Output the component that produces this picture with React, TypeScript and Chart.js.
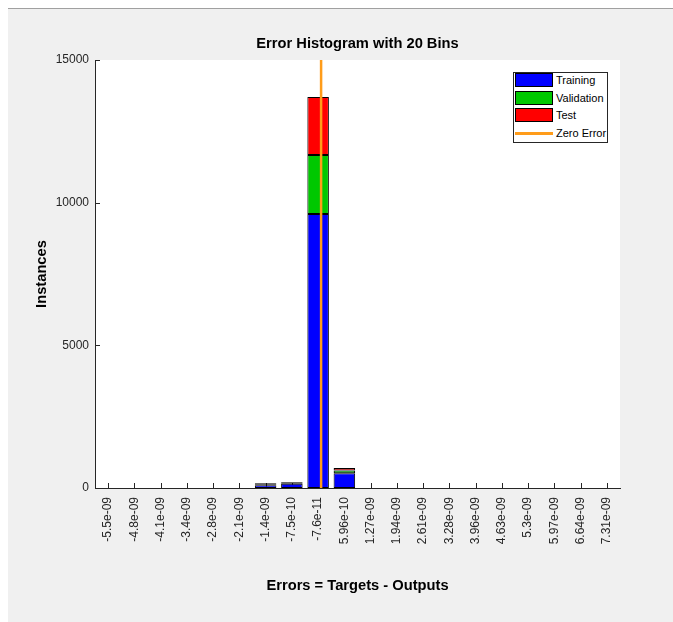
import React, { useEffect, useRef } from 'react';
import { Chart, registerables } from 'chart.js';

Chart.register(...registerables);

// Bin centres of the error histogram (tick labels on the x axis)
const binLabels = [
  '-5.5e-09', '-4.8e-09', '-4.1e-09', '-3.4e-09', '-2.8e-09', '-2.1e-09',
  '-1.4e-09', '-7.5e-10', '-7.6e-11', '5.96e-10', '1.27e-09', '1.94e-09',
  '2.61e-09', '3.28e-09', '3.96e-09', '4.63e-09', '5.3e-09', '5.97e-09',
  '6.64e-09', '7.31e-09',
];

// Instances per bin, split by data subset
const trainingCounts = [0, 0, 0, 0, 0, 0, 100, 150, 9600, 520, 0, 0, 0, 0, 0, 0, 0, 0, 0, 0];
const validationCounts = [0, 0, 0, 0, 0, 0, 35, 30, 2070, 90, 0, 0, 0, 0, 0, 0, 0, 0, 0, 0];
const testCounts = [0, 0, 0, 0, 0, 0, 35, 30, 2030, 90, 0, 0, 0, 0, 0, 0, 0, 0, 0, 0];

// Error value of the zero-error reference line
const zeroErrorValue = 0;

const yMax = 15000;
const yStep = 5000;

const FONT = '"Liberation Sans", Arial, Helvetica, sans-serif';
const AXIS_COLOR = '#262626';

const COLORS = {
  training: '#0000ff',
  validation: '#00c800',
  test: '#ff0000',
  zero: '#ff9c1a',
};

// White plotting area over the grey figure background
const plotBackground = {
  id: 'plotBackground',
  beforeDraw(chart: any) {
    const { ctx, chartArea } = chart;
    ctx.save();
    ctx.fillStyle = '#ffffff';
    ctx.fillRect(chartArea.left, chartArea.top, chartArea.right - chartArea.left, chartArea.bottom - chartArea.top);
    ctx.restore();
  },
};

// Tick marks pointing into the plot area
const inwardTicks = {
  id: 'inwardTicks',
  beforeDatasetsDraw(chart: any) {
    const { ctx, chartArea } = chart;
    const xs = chart.scales.x;
    const ys = chart.scales.y;
    const len = 5;
    ctx.save();
    ctx.strokeStyle = AXIS_COLOR;
    ctx.lineWidth = 1;
    ctx.beginPath();
    xs.ticks.forEach((_t: any, i: number) => {
      const px = Math.round(xs.getPixelForTick(i)) + 0.5;
      ctx.moveTo(px, chartArea.bottom);
      ctx.lineTo(px, chartArea.bottom - len);
    });
    ys.ticks.forEach((_t: any, i: number) => {
      const py = Math.round(ys.getPixelForTick(i)) + 0.5;
      ctx.moveTo(chartArea.left, py);
      ctx.lineTo(chartArea.left + len, py);
    });
    ctx.stroke();
    ctx.restore();
  },
};

// Vertical zero-error line, placed on the error-value scale
const zeroErrorLine = {
  id: 'zeroErrorLine',
  afterDatasetsDraw(chart: any) {
    const { ctx } = chart;
    const xz = chart.scales.xz;
    const ys = chart.scales.y;
    const px = xz.getPixelForValue(zeroErrorValue);
    ctx.save();
    ctx.strokeStyle = COLORS.zero;
    ctx.lineWidth = 2.5;
    ctx.beginPath();
    ctx.moveTo(px, ys.getPixelForValue(0));
    ctx.lineTo(px, ys.getPixelForValue(yMax));
    ctx.stroke();
    ctx.restore();
  },
};

function HistogramChart() {
  const canvasRef = useRef<HTMLCanvasElement | null>(null);

  useEffect(() => {
    if (!canvasRef.current) return;

    // Error-value scale spanning the bin edges
    const c8 = Number(binLabels[8]);
    const c9 = Number(binLabels[9]);
    const binWidth = c9 - c8;
    const errMin = c8 - 8.5 * binWidth;
    const errMax = errMin + binLabels.length * binWidth;

    const barCommon = {
      type: 'bar' as const,
      borderColor: '#000000',
      borderWidth: 1,
      borderSkipped: false,
      barPercentage: 0.82,
      categoryPercentage: 1,
    };

    const chart = new Chart(canvasRef.current, {
      type: 'bar',
      data: {
        labels: binLabels,
        datasets: [
          { ...barCommon, label: 'Training', data: trainingCounts, backgroundColor: COLORS.training },
          { ...barCommon, label: 'Validation', data: validationCounts, backgroundColor: COLORS.validation },
          { ...barCommon, label: 'Test', data: testCounts, backgroundColor: COLORS.test },
        ],
      },
      options: {
        animation: false,
        responsive: false,
        devicePixelRatio: 1,
        layout: { padding: { left: 0, right: 53, top: 0, bottom: 0 } },
        plugins: {
          legend: { display: false },
          tooltip: { enabled: false },
          title: {
            display: true,
            fullSize: false,
            text: 'Error Histogram with 20 Bins',
            color: '#000000',
            font: { family: FONT, size: 14.7, weight: 'bold' },
            padding: { top: 26.5, bottom: 6.86 },
          },
        },
        scales: {
          x: {
            type: 'category',
            stacked: true,
            offset: true,
            grid: { display: false, drawTicks: false },
            border: { display: true, color: AXIS_COLOR, width: 1 },
            ticks: {
              autoSkip: false,
              minRotation: 90,
              maxRotation: 90,
              padding: 9,
              color: AXIS_COLOR,
              font: { family: FONT, size: 12 },
            },
            title: {
              display: true,
              text: 'Errors = Targets - Outputs',
              color: '#000000',
              font: { family: FONT, size: 14.7, weight: 'bold' },
              padding: { top: 0, bottom: 27.7 },
            },
            afterFit(scale: any) {
              scale.height = 134;
            },
          },
          xz: {
            type: 'linear',
            display: false,
            offset: false,
            bounds: 'data',
            min: errMin,
            max: errMax,
          },
          y: {
            type: 'linear',
            stacked: true,
            min: 0,
            max: yMax,
            grid: { display: false, drawTicks: false },
            border: { display: true, color: AXIS_COLOR, width: 1 },
            ticks: {
              stepSize: yStep,
              padding: 6,
              color: AXIS_COLOR,
              font: { family: FONT, size: 12 },
              callback: (v: any) => String(v),
            },
            title: {
              display: true,
              text: 'Instances',
              color: '#000000',
              font: { family: FONT, size: 14.7, weight: 'bold' },
              padding: { top: 25.2, bottom: 0 },
            },
            afterFit(scale: any) {
              scale.width = 87;
            },
          },
        },
      } as any,
      plugins: [plotBackground, inwardTicks, zeroErrorLine],
    });

    return () => chart.destroy();
  }, []);

  return <canvas ref={canvasRef} width={665} height={613} style={{ position: 'absolute', left: 0, top: 0 }} />;
}

const legendItems = [
  { label: 'Training', color: COLORS.training, kind: 'box' },
  { label: 'Validation', color: COLORS.validation, kind: 'box' },
  { label: 'Test', color: COLORS.test, kind: 'box' },
  { label: 'Zero Error', color: COLORS.zero, kind: 'line' },
];

function Legend() {
  return (
    <div
      style={{
        position: 'absolute',
        left: 505,
        top: 63,
        width: 95,
        height: 71,
        boxSizing: 'border-box',
        border: '1px solid #262626',
        background: '#ffffff',
        fontFamily: FONT,
        fontSize: 11,
        color: '#000000',
      }}
    >
      {legendItems.map((item, i) => (
        <div key={item.label} style={{ position: 'absolute', left: 0, top: 0 + i * 17.7, width: '100%', height: 15 }}>
          {item.kind === 'box' ? (
            <div
              style={{
                position: 'absolute',
                left: 1,
                top: 0,
                width: 38,
                height: 14,
                boxSizing: 'border-box',
                border: '1px solid #000000',
                background: item.color,
              }}
            />
          ) : (
            <div style={{ position: 'absolute', left: 1, top: 6, width: 38, height: 2.5, background: item.color }} />
          )}
          <div style={{ position: 'absolute', left: 42, top: 0, lineHeight: '14px', whiteSpace: 'nowrap' }}>{item.label}</div>
        </div>
      ))}
    </div>
  );
}

export default function App() {
  return (
    <div
      style={{
        position: 'fixed',
        left: 8,
        top: 8,
        width: 665,
        height: 614,
        boxSizing: 'border-box',
        background: '#f0f0f0',
        borderTop: '1px solid #a0a0a0',
        overflow: 'hidden',
      }}
    >
      <HistogramChart />
      <Legend />
    </div>
  );
}
